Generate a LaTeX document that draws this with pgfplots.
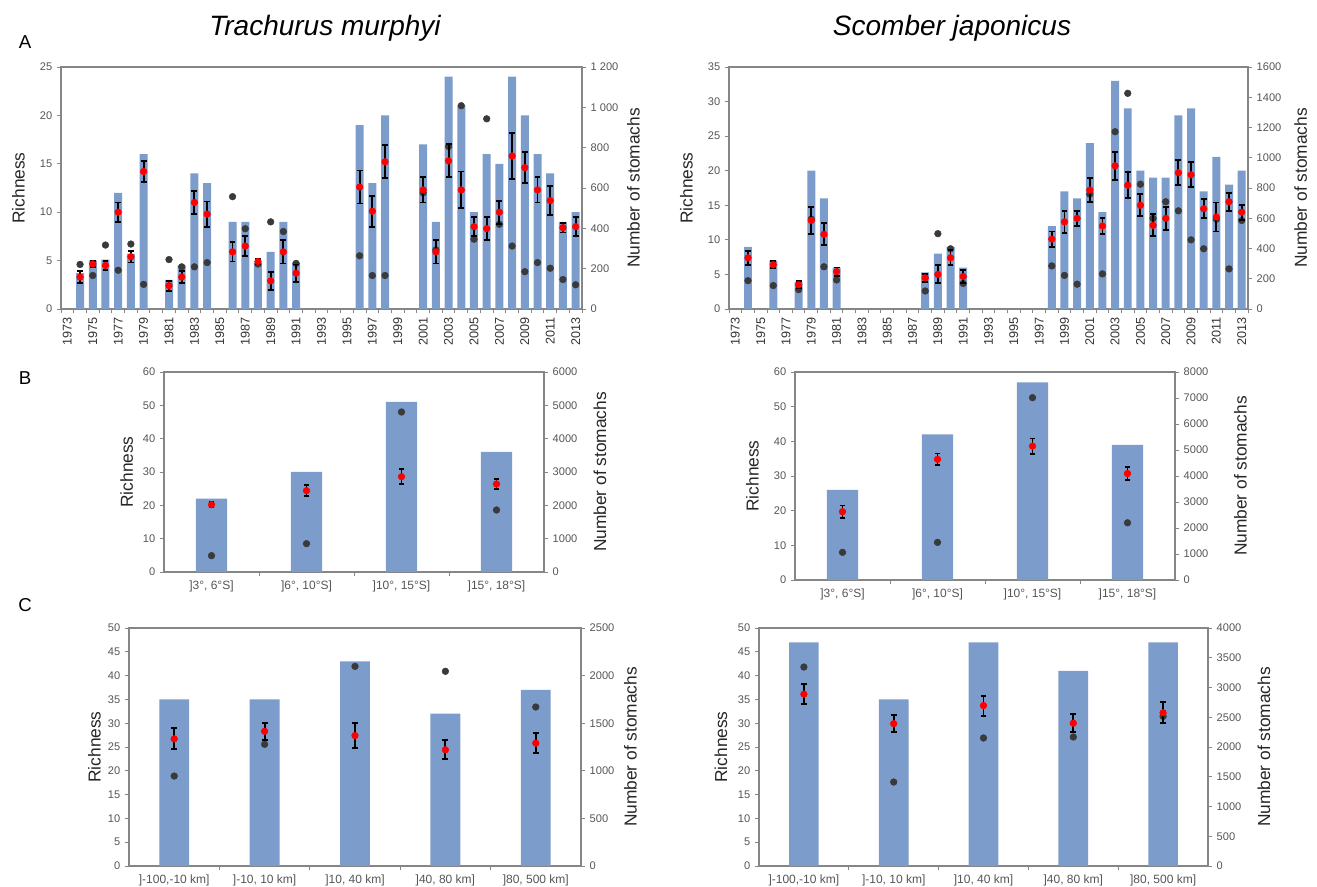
\documentclass[border=0pt]{standalone}
\usepackage{fontspec}
\setmainfont{Liberation Sans}
\usepackage{pgfplots}
\usepackage{pgfplotstable}
\pgfplotsset{compat=1.18}

\definecolor{barblue}{RGB}{124,156,204}
\definecolor{axgray}{RGB}{134,134,134}
\definecolor{dotgray}{RGB}{58,58,58}
\definecolor{tickgray}{RGB}{85,85,85}

\pgfplotstableread{
x bar red err dark
1974 3.7 3.3 0.6 221
1975 5.0 4.65 0.3 166
1976 5.1 4.5 0.5 317
1977 12.0 10.0 1.0 192
1978 5.7 5.4 0.6 322
1979 16.0 14.2 1.1 122
1981 3.0 2.4 0.5 245
1982 4.5 3.3 0.6 209
1983 14.0 11.0 1.2 209
1984 13.0 9.8 1.3 230
1986 9.0 5.9 1.0 557
1987 9.0 6.5 1.0 398
1988 4.8 4.9 0.3 223
1989 5.9 2.9 0.9 432
1990 9.0 5.9 1.2 384
1991 4.8 3.7 0.9 226
1996 19.0 12.6 1.7 264
1997 13.0 10.1 1.6 166
1998 20.0 15.2 1.7 166
2001 17.0 12.3 1.3 576
2002 9.0 5.9 1.2 293
2003 24.0 15.3 1.7 806
2004 21.0 12.3 1.9 1008
2005 10.0 8.5 1.0 346
2006 16.0 8.3 1.2 943
2007 15.0 10.0 1.2 420
2008 24.0 15.8 2.4 312
2009 20.0 14.6 1.6 185
2010 16.0 12.3 1.3 230
2011 14.0 11.2 1.5 202
2012 9.0 8.4 0.5 146
2013 10.0 8.5 1.0 120
}\Atr

\pgfplotstableread{
x bar red err dark
1974 9.0 7.4 1.0 187
1976 7.0 6.4 0.5 155
1978 3.9 3.5 0.5 128
1979 20.0 12.8 2.0 594
1980 16.0 10.8 1.6 279
1981 6.0 5.4 0.6 192
1988 5.3 4.5 0.6 119
1989 8.0 5.0 1.3 498
1990 9.0 7.4 1.1 398
1991 6.0 4.7 0.9 169
1998 12.0 10.1 1.1 285
1999 17.0 12.6 1.6 222
2000 16.0 13.1 1.1 164
2001 24.0 17.2 1.7 759
2002 14.0 12.0 1.1 232
2003 33.0 20.7 2.0 1172
2004 29.0 17.9 1.9 1426
2005 20.0 15.0 1.6 825
2006 19.0 12.1 1.6 599
2007 19.0 13.1 1.7 709
2008 28.0 19.7 1.8 649
2009 29.0 19.4 1.8 457
2010 17.0 14.5 1.4 398
2011 22.0 13.3 2.1 594
2012 18.0 15.5 1.3 265
2013 20.0 14.0 1.1 585
}\Asj

\pgfplotstableread{
x bar red err dark
0 22 20.2 0.8 490
1 30 24.4 1.6 850
2 51 28.6 2.3 4800
3 36 26.4 1.6 1860
}\Btr

\pgfplotstableread{
x bar red err dark
0 26 19.7 1.8 1063
1 42 34.8 1.7 1446
2 57 38.6 2.2 7013
3 39 30.7 1.8 2200
}\Bsj

\pgfplotstableread{
x bar red err dark
0 35 26.7 2.2 945
1 35 28.3 1.8 1278
2 43 27.4 2.6 2097
3 32 24.4 2.0 2045
4 37 25.8 2.1 1670
}\Ctr

\pgfplotstableread{
x bar red err dark
0 47 36.1 2.1 3344
1 35 29.9 1.8 1411
2 47 33.7 2.1 2151
3 41 30.0 1.9 2168
4 47 32.2 2.2 2515
}\Csj

\pgfplotsset{
  base/.style={scale only axis, anchor=south west, ymin=0, clip=false,
    axis line style={axgray, line width=1.2pt},
    tick style={axgray, line width=0.7pt},
    tick align=outside, major tick length=3pt, minor tick length=3pt,
    ticklabel style={font=\fontsize{8.3}{9}\selectfont, text=tickgray},
    /pgf/number format/assume math mode=true,
    /pgf/number format/1000 sep={},
    label style={font=\fontsize{13}{15}\selectfont, text=black!85}},
  leftax/.style={base, ytick pos=left, xtick pos=bottom, ylabel={Richness},
    ylabel style={at={(axis description cs:0,0.5)}, anchor=center, rotate=0}},
  rightax/.style={base, axis y line*=right, axis x line=none,
    ylabel={Number of stomachs},
    ylabel style={at={(axis description cs:1,0.5)}, anchor=center}},
  redax/.style={base, hide axis},
  yearticks/.style={xtick={1973,1975,...,2013},
    minor xtick={1972.5,1973.5,...,2013.5},
    major x tick style={draw=none},
    x tick label style={rotate=90, anchor=east, text=black!80, font=\fontsize{9.5}{10}\selectfont}},
  catticks/.style={major x tick style={draw=none},
    x tick label style={text=tickgray, font=\fontsize{9}{10}\selectfont}},
  barsty/.style={ybar, bar width=#1, fill=barblue, draw=none},
  darksty/.style={only marks, mark=*, mark size=2.5pt, dotgray},
  redsty/.style={only marks, mark=*, mark size=2.5pt, red,
    error bars/.cd, y dir=both, y explicit,
    error bar style={black, line width=1.4pt},
    error mark options={black, rotate=90, mark size=2.2pt, line width=1.4pt}},
}

\begin{document}
\begin{tikzpicture}
\useasboundingbox (0,0) rectangle (987.75pt,665.25pt);

\node[font=\fontsize{21}{24}\selectfont\itshape] at (243.75pt,644.25pt) {Trachurus murphyi};
\node[font=\fontsize{21}{24}\selectfont\itshape] at (714pt,644.25pt) {Scomber japonicus};
\node[font=\fontsize{14}{16}\selectfont] at (18.75pt,633.75pt) {A};
\node[font=\fontsize{14}{16}\selectfont] at (18.75pt,381.75pt) {B};
\node[font=\fontsize{14}{16}\selectfont] at (18.75pt,211.5pt) {C};

% ---------- A left ----------
\begin{axis}[leftax, yearticks, at={(45.75pt,433.5pt)}, width=390.75pt, height=181.5pt,
  xmin=1972.5, xmax=2013.5, ymax=25, ytick={0,5,...,25}, ylabel style={yshift=32pt}]
\addplot[barsty=0.63] table[x=x,y=bar]{\Atr};
\end{axis}
\begin{axis}[rightax, at={(45.75pt,433.5pt)}, width=390.75pt, height=181.5pt,
  xmin=1972.5, xmax=2013.5, ymax=1200, ytick={0,200,...,1200},
  /pgf/number format/1000 sep={\ }, ylabel style={yshift=-38.5pt}]
\addplot[darksty] table[x=x,y=dark]{\Atr};
\end{axis}
\begin{axis}[redax, at={(45.75pt,433.5pt)}, width=390.75pt, height=181.5pt,
  xmin=1972.5, xmax=2013.5, ymax=25]
\addplot[redsty] table[x=x,y=red,y error=err]{\Atr};
\end{axis}

% ---------- A right ----------
\begin{axis}[leftax, yearticks, at={(546.75pt,433.5pt)}, width=389.25pt, height=181.5pt,
  xmin=1972.5, xmax=2013.5, ymax=35, ytick={0,5,...,35}, ylabel style={yshift=32pt}]
\addplot[barsty=0.63] table[x=x,y=bar]{\Asj};
\end{axis}
\begin{axis}[rightax, at={(546.75pt,433.5pt)}, width=389.25pt, height=181.5pt,
  xmin=1972.5, xmax=2013.5, ymax=1600, ytick={0,200,...,1600}, ylabel style={yshift=-39.5pt}]
\addplot[darksty] table[x=x,y=dark]{\Asj};
\end{axis}
\begin{axis}[redax, at={(546.75pt,433.5pt)}, width=389.25pt, height=181.5pt,
  xmin=1972.5, xmax=2013.5, ymax=35]
\addplot[redsty] table[x=x,y=red,y error=err]{\Asj};
\end{axis}

% ---------- B left ----------
\begin{axis}[leftax, catticks, at={(123pt,236.25pt)}, width=285pt, height=150pt,
  xmin=-0.5, xmax=3.5, xtick={0,1,2,3}, minor xtick={0.5,1.5,2.5},
  xticklabels={{]3°, 6°S]},{]6°, 10°S]},{]10°, 15°S]},{]15°, 18°S]}},
  ymax=60, ytick={0,10,...,60}, ylabel style={yshift=28pt}]
\addplot[barsty=0.33] table[x=x,y=bar]{\Btr};
\end{axis}
\begin{axis}[rightax, at={(123pt,236.25pt)}, width=285pt, height=150pt,
  xmin=-0.5, xmax=3.5, ymax=6000, ytick={0,1000,...,6000}, ylabel style={yshift=-42pt}]
\addplot[darksty] table[x=x,y=dark]{\Btr};
\end{axis}
\begin{axis}[redax, at={(123pt,236.25pt)}, width=285pt, height=150pt,
  xmin=-0.5, xmax=3.5, ymax=60]
\addplot[redsty] table[x=x,y=red,y error=err]{\Btr};
\end{axis}

% ---------- B right ----------
\begin{axis}[leftax, catticks, at={(596.25pt,230.25pt)}, width=285pt, height=156pt,
  xmin=-0.5, xmax=3.5, xtick={0,1,2,3}, minor xtick={0.5,1.5,2.5},
  xticklabels={{]3°, 6°S]},{]6°, 10°S]},{]10°, 15°S]},{]15°, 18°S]}},
  ymax=60, ytick={0,10,...,60}, ylabel style={yshift=32pt}]
\addplot[barsty=0.33] table[x=x,y=bar]{\Bsj};
\end{axis}
\begin{axis}[rightax, at={(596.25pt,230.25pt)}, width=285pt, height=156pt,
  xmin=-0.5, xmax=3.5, ymax=8000, ytick={0,1000,...,8000}, ylabel style={yshift=-49pt}]
\addplot[darksty] table[x=x,y=dark]{\Bsj};
\end{axis}
\begin{axis}[redax, at={(596.25pt,230.25pt)}, width=285pt, height=156pt,
  xmin=-0.5, xmax=3.5, ymax=60]
\addplot[redsty] table[x=x,y=red,y error=err]{\Bsj};
\end{axis}

% ---------- C left ----------
\begin{axis}[leftax, catticks, at={(96.75pt,15.75pt)}, width=339pt, height=178.5pt,
  xmin=-0.5, xmax=4.5, xtick={0,1,2,3,4}, minor xtick={0.5,1.5,2.5,3.5},
  xticklabels={{]-100,-10 km]},{]-10, 10 km]},{]10, 40 km]},{]40, 80 km]},{]80, 500 km]}},
  ymax=50, ytick={0,5,...,50}, ylabel style={yshift=26pt}]
\addplot[barsty=0.33] table[x=x,y=bar]{\Ctr};
\end{axis}
\begin{axis}[rightax, at={(96.75pt,15.75pt)}, width=339pt, height=178.5pt,
  xmin=-0.5, xmax=4.5, ymax=2500, ytick={0,500,...,2500}, ylabel style={yshift=-37pt}]
\addplot[darksty] table[x=x,y=dark]{\Ctr};
\end{axis}
\begin{axis}[redax, at={(96.75pt,15.75pt)}, width=339pt, height=178.5pt,
  xmin=-0.5, xmax=4.5, ymax=50]
\addplot[redsty] table[x=x,y=red,y error=err]{\Ctr};
\end{axis}

% ---------- C right ----------
\begin{axis}[leftax, catticks, at={(569.25pt,15.75pt)}, width=336.75pt, height=178.5pt,
  xmin=-0.5, xmax=4.5, xtick={0,1,2,3,4}, minor xtick={0.5,1.5,2.5,3.5},
  xticklabels={{]-100,-10 km]},{]-10, 10 km]},{]10, 40 km]},{]40, 80 km]},{]80, 500 km]}},
  ymax=50, ytick={0,5,...,50}, ylabel style={yshift=28.5pt}]
\addplot[barsty=0.33] table[x=x,y=bar]{\Csj};
\end{axis}
\begin{axis}[rightax, at={(569.25pt,15.75pt)}, width=336.75pt, height=178.5pt,
  xmin=-0.5, xmax=4.5, ymax=4000, ytick={0,500,...,4000}, ylabel style={yshift=-42pt}]
\addplot[darksty] table[x=x,y=dark]{\Csj};
\end{axis}
\begin{axis}[redax, at={(569.25pt,15.75pt)}, width=336.75pt, height=178.5pt,
  xmin=-0.5, xmax=4.5, ymax=50]
\addplot[redsty] table[x=x,y=red,y error=err]{\Csj};
\end{axis}

\end{tikzpicture}
\end{document}
